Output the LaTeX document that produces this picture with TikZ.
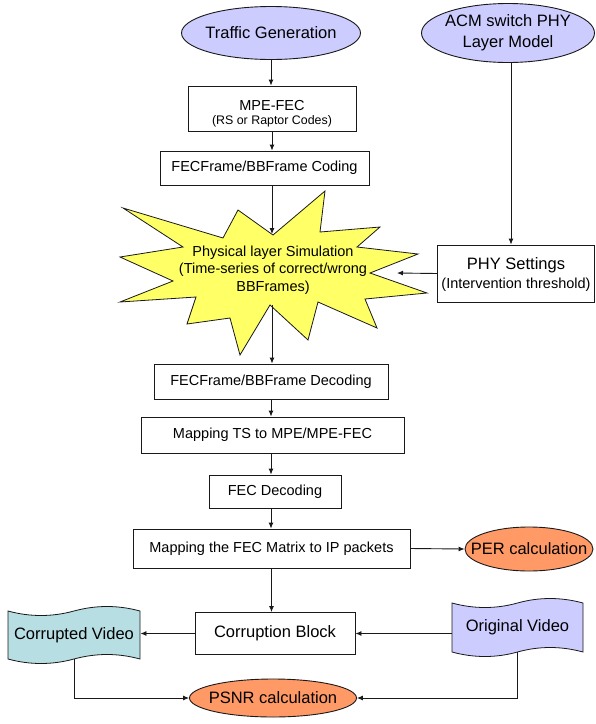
\documentclass[tikz,border=0pt]{standalone}
\usepackage{fontspec}
\setmainfont{Liberation Sans}
\usetikzlibrary{shapes.geometric,arrows.meta}
\definecolor{lav}{RGB}{204,204,255}
\definecolor{org}{RGB}{255,153,102}
\definecolor{ylw}{RGB}{255,255,102}
\definecolor{tealc}{RGB}{183,222,226}
\definecolor{lc}{RGB}{25,25,25}
\begin{document}
\begin{tikzpicture}[x=1pt,y=-1pt,line width=0.9pt,
  txt/.style={font=\fontsize{14.5}{17}\selectfont},
  big/.style={font=\fontsize{16.5}{20}\selectfont},
  box/.style={draw=lc, fill=white, align=center, inner sep=0pt},
  ell/.style={ellipse, draw=lc, inner sep=0pt},
  lbl/.style={align=center, inner sep=0pt},
  arr/.style={draw=lc, -{Latex[length=6pt,width=5pt]}}]
\useasboundingbox (0,0) rectangle (596,724);

% top ellipses
\node[ell, fill=lav, minimum width=179pt, minimum height=53pt] (tg) at (271,33) {};
\node[lbl, big] (tgt) at (tg) {Traffic Generation};
\node[ell, fill=lav, minimum width=173pt, minimum height=59pt] (acm) at (508,33) {};
\node[lbl, font=\fontsize{16.5}{21}\selectfont] (acmt) at (acm) {ACM switch PHY\\Layer Model};

% boxes
\node[box, minimum width=168pt, minimum height=45pt] (mpe) at (272,108.5) {};
\node[lbl, txt] (mpet) at (272,105.5) {MPE-FEC};
\node[lbl, font=\fontsize{12.4}{15}\selectfont] (mpes) at (272,121.5) {(RS or Raptor Codes)};
\node[box, txt, minimum width=209pt, minimum height=34pt] (fc) at (264.5,168) {FECFrame/BBFrame Coding};

% star
\filldraw[fill=ylw, draw=lc, line width=0.8pt]
  (123,208) -- (223,238) -- (238,210) -- (273,235) -- (325,191) -- (320,232)
  -- (380,227) -- (357,247) -- (418,254) -- (370,273) -- (427,293) -- (365,299)
  -- (377,328) -- (318,302) -- (308,340) -- (270,305) -- (240,355) -- (230,318)
  -- (187,324) -- (196,297) -- (120,302) -- (173,281) -- (120,257) -- (183,247) -- cycle;
\node[lbl, font=\fontsize{14.5}{17.5}\selectfont] (sim) at (273,270) {Physical layer Simulation\\(Time-series of correct/wrong\\BBFrames)};
\coordinate (simtop) at (272,234);
\coordinate (simbot) at (272,305);
\coordinate (simright) at (397,273);

\node[box, minimum width=157pt, minimum height=57pt] (phy) at (516,273.5) {};
\node[lbl, big] (phyt) at (516,265) {PHY Settings};
\node[lbl, txt] (phys) at (516,285) {(Intervention threshold)};

\node[box, txt, minimum width=234pt, minimum height=35pt] (dec) at (271,381.5) {FECFrame/BBFrame Decoding};
\node[box, txt, minimum width=263pt, minimum height=36pt] (mts) at (272.5,435) {Mapping TS to MPE/MPE-FEC};
\node[box, txt, minimum width=132pt, minimum height=33pt] (fd) at (275,491.5) {FEC Decoding};
\node[box, txt, minimum width=277pt, minimum height=39pt] (mf) at (271.5,548.5) {Mapping the FEC Matrix to IP packets};

\node[ell, fill=org, minimum width=128pt, minimum height=44pt] (per) at (529,549) {};
\node[lbl, big] (pert) at (per) {PER calculation};

\node[box, big, minimum width=160pt, minimum height=42pt] (cb) at (275,633.5) {Corruption Block};

% tapes
\filldraw[fill=tealc, draw=lc, line width=0.8pt]
  (8,611) .. controls (30,617) and (52,617) .. (74,611)
  .. controls (96,605) and (118,605) .. (140,611) -- (140,659)
  .. controls (118,653) and (96,653) .. (74,659)
  .. controls (52,665) and (30,665) .. (8,659) -- cycle;
\node[lbl, big, minimum width=132pt, minimum height=48pt] (cv) at (74,635) {Corrupted Video};
\filldraw[fill=lav, draw=lc, line width=0.8pt]
  (452,603) .. controls (474,609) and (496,609) .. (517.5,603)
  .. controls (539,597) and (561,597) .. (583,603) -- (583,652)
  .. controls (561,646) and (539,646) .. (517.5,652)
  .. controls (496,658) and (474,658) .. (452,652) -- cycle;
\node[lbl, big, minimum width=131pt, minimum height=49pt] (ov) at (517.5,627.5) {Original Video};

\node[ell, fill=org, minimum width=167pt, minimum height=38pt] (psnr) at (273,698) {};
\node[lbl, big] (psnrt) at (psnr) {PSNR calculation};

% connectors
\draw[arr] (tg.south) -- (tg.south |- mpe.north);
\draw[arr] (mpe.south) -- (mpe.south |- fc.north);
\draw[arr] (mpe.south |- fc.south) -- (simtop);
\draw[arr] ([xshift=3pt]acm.south) -- ([xshift=3pt]acm.south |- phy.north);
\draw[arr] (phy.west) -- (simright);
\draw[arr] (simbot) -- (simbot |- dec.north);
\draw[arr] (dec.south) -- (dec.south |- mts.north);
\draw[arr] (dec.south |- mts.south) -- (dec.south |- fd.north);
\draw[arr] (dec.south |- fd.south) -- (dec.south |- mf.north);
\draw[arr] (mf.east) -- (per.west);
\draw[arr] (mf.south) -- (mf.south |- cb.north);
\draw[arr] (cb.west) -- (cv.east |- cb.west);
\draw[arr] (ov.west |- cb.east) -- (cb.east);
\draw[arr] (cv.south) |- (psnr.west);
\draw[arr] (ov.south) |- (psnr.east);
\end{tikzpicture}
\end{document}
